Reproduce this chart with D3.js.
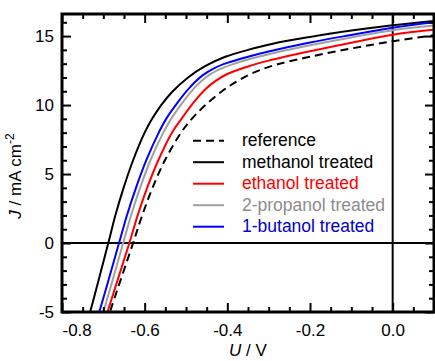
<!DOCTYPE html>
<html>
<head>
<meta charset="utf-8">
<script src="https://cdn.jsdelivr.net/npm/d3@7"></script>
<style>
  body { margin: 0; background: #fff; }
  text { font-family: "Liberation Sans", Arial, sans-serif; }
</style>
</head>
<body>
<svg id="chart" width="435" height="361"></svg>
<script>
// ---- data (U in V, J in mA cm^-2) ----
const seriesNames = ["reference", "methanol treated", "ethanol treated", "2-propanol treated", "1-butanol treated"];
const seriesColors = ["#000000", "#000000", "#ff0000", "#a0a0a0", "#0000ff"];
const legendTextColors = ["#000000", "#000000", "#ff0000", "#8c8c8c", "#0000cc"];

const referenceU = [-0.692, -0.684, -0.628, -0.606, -0.581, -0.551, -0.512, -0.486, -0.453, -0.413, -0.378, -0.34, -0.285, -0.2, -0.1, 0.0, 0.1];
const referenceJ = [-5.8, -5.0, 0.0, 2.0, 4.0, 6.0, 8.0, 9.0, 10.0, 11.0, 11.7, 12.3, 12.9, 13.5, 14.1, 14.62, 15.06];

const methanolU = [-0.74, -0.732, -0.688, -0.671, -0.651, -0.628, -0.600, -0.582, -0.560, -0.532, -0.495, -0.455, -0.405, -0.35, -0.29, -0.2, -0.1, 0.0, 0.1];
const methanolJ = [-5.8, -5.0, 0.0, 2.0, 4.0, 6.0, 8.0, 9.0, 10.0, 11.0, 12.0, 12.8, 13.5, 14.0, 14.45, 14.94, 15.4, 15.79, 16.1];

const ethanolU = [-0.698, -0.69, -0.637, -0.617, -0.594, -0.567, -0.534, -0.511, -0.48, -0.455, -0.43, -0.4, -0.35, -0.3, -0.2, -0.1, 0.0, 0.1];
const ethanolJ = [-5.8, -5.0, 0.0, 2.0, 4.0, 6.0, 8.0, 9.0, 10.24, 11.09, 11.72, 12.25, 12.8, 13.22, 13.9, 14.52, 15.1, 15.45];

const propanolU = [-0.709, -0.70, -0.652, -0.633, -0.611, -0.586, -0.555, -0.536, -0.508, -0.478, -0.448, -0.418, -0.388, -0.35, -0.3, -0.2, -0.1, 0.0, 0.1];
const propanolJ = [-5.8, -5.0, 0.0, 2.0, 4.0, 6.0, 8.0, 9.0, 10.2, 11.3, 12.1, 12.6, 12.95, 13.3, 13.68, 14.33, 14.9, 15.43, 15.76];

const butanolU = [-0.719, -0.71, -0.662, -0.643, -0.621, -0.596, -0.566, -0.548, -0.52, -0.49, -0.46, -0.43, -0.4, -0.35, -0.3, -0.2, -0.1, 0.0, 0.1];
const butanolJ = [-5.8, -5.0, 0.0, 2.0, 4.0, 6.0, 8.0, 9.0, 10.2, 11.3, 12.15, 12.7, 13.06, 13.5, 13.88, 14.53, 15.08, 15.6, 16.0];

const xMajorTicks = [-0.8, -0.6, -0.4, -0.2, 0.0];
const xTickLabels = ["-0.8", "-0.6", "-0.4", "-0.2", "0.0"];
const yMajorTicks = [-5, 0, 5, 10, 15];
const yTickLabels = ["-5", "0", "5", "10", "15"];

// ---- layout ----
const svg = d3.select("#chart");
const L = 62, R = 434, T = 14, B = 312;
const FS = 17;

const x = d3.scaleLinear().domain([-0.8, 0.1]).range([L, R]);
const y = d3.scaleLinear().domain([-5, 16.6]).range([B, T]);

const xMinor = d3.range(-0.8, 0.1001, 0.05).map(v => +v.toFixed(2)).filter(v => !xMajorTicks.some(m => Math.abs(m - v) < 1e-6));
const yMinor = d3.range(-5, 16.01, 1).filter(v => !yMajorTicks.includes(v));

svg.append("defs").append("clipPath").attr("id", "clip")
  .append("rect").attr("x", L).attr("y", T).attr("width", R - L).attr("height", B - T);

// zero lines
svg.append("line").attr("x1", L).attr("x2", R).attr("y1", y(0)).attr("y2", y(0))
  .attr("stroke", "#000").attr("stroke-width", 2);
svg.append("line").attr("x1", x(0)).attr("x2", x(0)).attr("y1", T).attr("y2", B)
  .attr("stroke", "#000").attr("stroke-width", 2);

// curves
const curves = [
  { U: propanolU, J: propanolJ, color: seriesColors[3], dash: null },
  { U: referenceU, J: referenceJ, color: seriesColors[0], dash: "8,5" },
  { U: methanolU, J: methanolJ, color: seriesColors[1], dash: null },
  { U: butanolU, J: butanolJ, color: seriesColors[4], dash: null },
  { U: ethanolU, J: ethanolJ, color: seriesColors[2], dash: null }
];
const line = d3.line().x(d => x(d[0])).y(d => y(d[1])).curve(d3.curveCatmullRom.alpha(0.5));
const gCurves = svg.append("g").attr("clip-path", "url(#clip)");
curves.forEach(c => {
  gCurves.append("path")
    .attr("d", line(c.U.map((u, i) => [u, c.J[i]])))
    .attr("fill", "none").attr("stroke", c.color).attr("stroke-width", 2)
    .attr("stroke-dasharray", c.dash);
});

// axes (ticks inward)
function styleAxis(g) {
  g.select(".domain").remove();
  g.selectAll("line").attr("stroke", "#000").attr("stroke-width", 2);
  g.selectAll("text").attr("font-size", FS).attr("fill", "#000")
    .attr("font-family", "'Liberation Sans', Arial, sans-serif");
}
const fmtX = d => xTickLabels[xMajorTicks.indexOf(d)];
const fmtY = d => yTickLabels[yMajorTicks.indexOf(d)];

const gxB = svg.append("g").attr("transform", `translate(0,${B})`)
  .call(d3.axisBottom(x).tickValues(xMajorTicks).tickFormat(fmtX).tickSizeInner(-9).tickSizeOuter(0).tickPadding(8));
styleAxis(gxB);
gxB.selectAll("text").attr("y", 8).attr("dy", "0.95em");
gxB.selectAll(".tick").filter(d => d === -0.8).select("text").attr("text-anchor", "start");
svg.append("g").attr("transform", `translate(0,${B})`)
  .call(d3.axisBottom(x).tickValues(xMinor).tickFormat("").tickSizeInner(-5).tickSizeOuter(0)).call(styleAxis);
svg.append("g").attr("transform", `translate(0,${T})`)
  .call(d3.axisTop(x).tickValues(xMajorTicks).tickFormat("").tickSizeInner(-9).tickSizeOuter(0)).call(styleAxis);
svg.append("g").attr("transform", `translate(0,${T})`)
  .call(d3.axisTop(x).tickValues(xMinor).tickFormat("").tickSizeInner(-5).tickSizeOuter(0)).call(styleAxis);

const gyL = svg.append("g").attr("transform", `translate(${L},0)`)
  .call(d3.axisLeft(y).tickValues(yMajorTicks).tickFormat(fmtY).tickSizeInner(-9).tickSizeOuter(0).tickPadding(8));
styleAxis(gyL);
svg.append("g").attr("transform", `translate(${L},0)`)
  .call(d3.axisLeft(y).tickValues(yMinor).tickFormat("").tickSizeInner(-5).tickSizeOuter(0)).call(styleAxis);
svg.append("g").attr("transform", `translate(${R},0)`)
  .call(d3.axisRight(y).tickValues(yMajorTicks).tickFormat("").tickSizeInner(-9).tickSizeOuter(0)).call(styleAxis);
svg.append("g").attr("transform", `translate(${R},0)`)
  .call(d3.axisRight(y).tickValues(yMinor).tickFormat("").tickSizeInner(-5).tickSizeOuter(0)).call(styleAxis);

// frame
svg.append("rect").attr("x", L).attr("y", T).attr("width", R - L).attr("height", B - T)
  .attr("fill", "none").attr("stroke", "#000").attr("stroke-width", 3);

// axis titles
const xt = svg.append("text").attr("x", (L + R) / 2).attr("y", 356).attr("text-anchor", "middle")
  .attr("font-size", FS);
xt.append("tspan").attr("font-style", "italic").text("U");
xt.append("tspan").text(" / V");

const yt = svg.append("text").attr("transform", `translate(21,176) rotate(-90)`)
  .attr("text-anchor", "middle").attr("font-size", FS);
yt.append("tspan").attr("font-style", "italic").text("J");
yt.append("tspan").text(" / mA cm");
yt.append("tspan").attr("font-size", 12).attr("dy", "-0.55em").text("-2");

// legend
const legendRows = [0, 1, 2, 3, 4];
const legendY = d3.scaleLinear().domain([0, 4]).range([140.7, 226.7]);
const gLeg = svg.append("g");
legendRows.forEach(i => {
  const yy = legendY(i);
  gLeg.append("line").attr("x1", 193).attr("x2", 224).attr("y1", yy).attr("y2", yy)
    .attr("stroke", seriesColors[i]).attr("stroke-width", 2)
    .attr("stroke-dasharray", i === 0 ? "8,5" : null);
  gLeg.append("text").attr("x", 242).attr("y", yy).attr("dy", "0.33em")
    .attr("font-size", 17.5).attr("fill", legendTextColors[i]).text(seriesNames[i]);
});
</script>
</body>
</html>
